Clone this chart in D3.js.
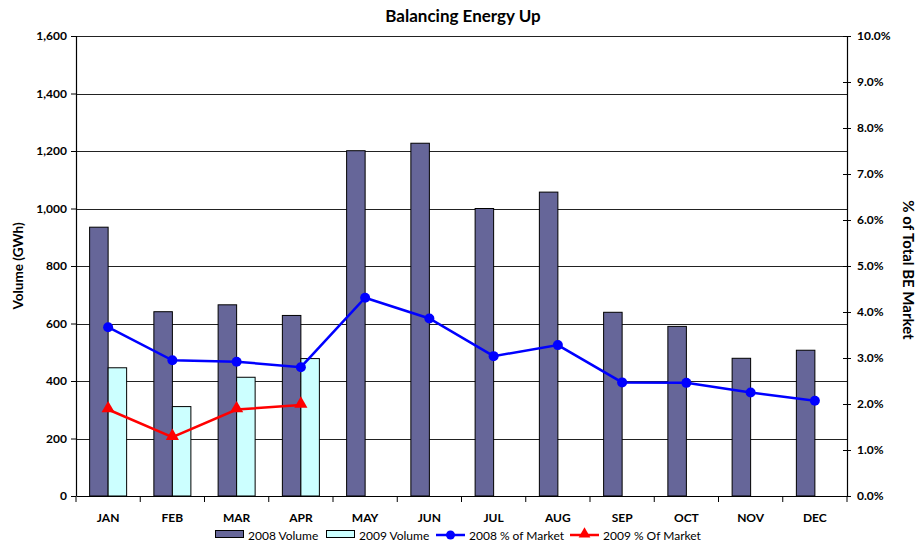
<!DOCTYPE html>
<html>
<head>
<meta charset="utf-8">
<script src="https://cdn.jsdelivr.net/npm/d3@7"></script>
<style>
	body { margin: 0; background: #fff; }
	text { font-family: Lato, "Open Sans", sans-serif; }
</style>
</head>
<body>
<div id="chart"></div>
<script>
///////////////////////////////////////////////////////////////////////////
//////////////////////////// data /////////////////////////////////////////
///////////////////////////////////////////////////////////////////////////

const months = ["JAN", "FEB", "MAR", "APR", "MAY", "JUN", "JUL", "AUG", "SEP", "OCT", "NOV", "DEC"];
const volume2008 = [935, 641, 665, 628, 1201, 1227, 1000, 1057, 639, 590, 479, 507];
const volume2009 = [446, 311, 413, 478];
const share2008 = [3.67, 2.95, 2.92, 2.8, 4.31, 3.86, 3.04, 3.28, 2.47, 2.46, 2.25, 2.07];
const share2009 = [1.88, 1.28, 1.88, 1.98];
const volTicks = [0, 200, 400, 600, 800, 1000, 1200, 1400, 1600];
const pctTicks = [0, 1, 2, 3, 4, 5, 6, 7, 8, 9, 10];

const createChart = () => {
	//////////////////////////// sizes ///////////////////////////////////
	let dimensions = {
		width: 917,
		height: 545,
		margin: { top: 36, right: 70, bottom: 49, left: 76 }
	};
	dimensions.boundedWidth = dimensions.width - dimensions.margin.left - dimensions.margin.right;
	dimensions.boundedHeight = dimensions.height - dimensions.margin.top - dimensions.margin.bottom;

	const svg = d3.select("#chart").append("svg")
		.attr("width", dimensions.width)
		.attr("height", dimensions.height);

	const bounds = svg.append("g")
		.attr("transform", `translate(${dimensions.margin.left},${dimensions.margin.top})`);

	//////////////////////////// scales ///////////////////////////////////////
	const xScale = d3.scaleBand()
		.domain(months)
		.range([0, dimensions.boundedWidth]);

	const barW = xScale.bandwidth() * 0.288;

	const yScale = d3.scaleLinear()
		.domain([0, 1600])
		.range([dimensions.boundedHeight, 0]);

	const pScale = d3.scaleLinear()
		.domain([0, 10])
		.range([dimensions.boundedHeight, 0]);

	const cx = (i) => xScale(months[i]) + xScale.bandwidth() / 2;

	//////////////////////////// grid ///////////////////////////////////////
	bounds.append("g")
		.selectAll("line")
		.data(volTicks.slice(1))
		.join("line")
		.attr("x1", 0)
		.attr("x2", dimensions.boundedWidth)
		.attr("y1", (d) => Math.round(yScale(d)) + 0.5)
		.attr("y2", (d) => Math.round(yScale(d)) + 0.5)
		.attr("stroke", "#222")
		.attr("stroke-width", 1);

	//////////////////////////// bars ///////////////////////////////////////
	bounds.append("g")
		.selectAll("rect")
		.data(volume2008)
		.join("rect")
		.attr("x", (d, i) => cx(i) - barW)
		.attr("y", (d) => yScale(d))
		.attr("width", barW)
		.attr("height", (d) => dimensions.boundedHeight - yScale(d))
		.attr("fill", "#666699")
		.attr("stroke", "#000")
		.attr("stroke-width", 1);

	bounds.append("g")
		.selectAll("rect")
		.data(volume2009)
		.join("rect")
		.attr("x", (d, i) => cx(i))
		.attr("y", (d) => yScale(d))
		.attr("width", barW)
		.attr("height", (d) => dimensions.boundedHeight - yScale(d))
		.attr("fill", "#CCFFFF")
		.attr("stroke", "#000")
		.attr("stroke-width", 1);

	//////////////////////////// axes ///////////////////////////////////////
	const fmt = d3.format(",");
	const yAxis = d3.axisLeft(yScale)
		.tickValues(volTicks)
		.tickFormat(fmt)
		.tickSize(5)
		.tickPadding(4);
	const yAxisG = bounds.append("g").call(yAxis);

	const pAxis = d3.axisRight(pScale)
		.tickValues(pctTicks)
		.tickFormat((d) => d.toFixed(1) + "%")
		.tickSize(4)
		.tickPadding(6);
	const pAxisG = bounds.append("g")
		.attr("transform", `translate(${dimensions.boundedWidth},0)`)
		.call(pAxis);
	pAxisG.selectAll(".tick line").attr("x1", -4);

	const xAxis = d3.axisBottom(xScale)
		.tickSize(0)
		.tickPadding(17);
	const xAxisG = bounds.append("g")
		.attr("transform", `translate(0,${dimensions.boundedHeight})`)
		.call(xAxis);

	// tick marks between categories
	xAxisG.append("g")
		.selectAll("line")
		.data(d3.range(months.length + 1))
		.join("line")
		.attr("x1", (d) => d * xScale.step())
		.attr("x2", (d) => d * xScale.step())
		.attr("y1", 0)
		.attr("y2", 6)
		.attr("stroke", "#000");

	[yAxisG, pAxisG, xAxisG].forEach((g) => {
		g.select(".domain").attr("stroke", "#000").attr("stroke-width", 1.2);
		g.selectAll(".tick line").attr("stroke", "#000");
		g.selectAll("text")
			.attr("fill", "#000")
			.style("font-size", "12px")
			.style("font-weight", "bold");
	});
	yAxisG.select(".domain").attr("d", `M0.5,0V${dimensions.boundedHeight}`);
	pAxisG.select(".domain").attr("d", `M0.5,0V${dimensions.boundedHeight}`);

	//////////////////////////// lines ///////////////////////////////////////
	const line = d3.line()
		.x((d, i) => cx(i))
		.y((d) => pScale(d));

	bounds.append("path")
		.datum(share2008)
		.attr("d", line)
		.attr("fill", "none")
		.attr("stroke", "#0000FF")
		.attr("stroke-width", 2.5);

	bounds.append("g")
		.selectAll("circle")
		.data(share2008)
		.join("circle")
		.attr("cx", (d, i) => cx(i))
		.attr("cy", (d) => pScale(d))
		.attr("r", 5)
		.attr("fill", "#0000FF");

	bounds.append("path")
		.datum(share2009)
		.attr("d", line)
		.attr("fill", "none")
		.attr("stroke", "#FF0000")
		.attr("stroke-width", 2.5);

	const tri = d3.symbol().type(d3.symbolTriangle).size(75);
	bounds.append("g")
		.selectAll("path")
		.data(share2009)
		.join("path")
		.attr("d", tri)
		.attr("transform", (d, i) => `translate(${cx(i)},${pScale(d) - 1})`)
		.attr("fill", "#FF0000");

	//////////////////////////// titles ///////////////////////////////////////
	svg.append("text")
		.attr("x", 463)
		.attr("y", 22)
		.attr("text-anchor", "middle")
		.style("font-size", "17px")
		.style("font-weight", "bold")
		.text("Balancing Energy Up");

	svg.append("text")
		.attr("transform", `translate(23,${dimensions.margin.top + dimensions.boundedHeight / 2}) rotate(-90)`)
		.attr("text-anchor", "middle")
		.style("font-size", "13.5px")
		.style("font-weight", "bold")
		.text("Volume (GWh)");

	svg.append("text")
		.attr("transform", `translate(903,${dimensions.margin.top + dimensions.boundedHeight / 2 + 4}) rotate(90)`)
		.attr("text-anchor", "middle")
		.style("font-size", "15px")
		.style("font-weight", "bold")
		.text("% of Total BE Market");

	//////////////////////////// legend ///////////////////////////////////////
	const legendItems = [
		{ label: "2008 Volume", type: "bar", color: "#666699", x: 215 },
		{ label: "2009 Volume", type: "bar", color: "#CCFFFF", x: 326 },
		{ label: "2008 % of Market", type: "circle", color: "#0000FF", x: 436 },
		{ label: "2009 % Of Market", type: "triangle", color: "#FF0000", x: 570 }
	];
	const ly = 535;
	const legend = svg.append("g")
		.selectAll("g")
		.data(legendItems)
		.join("g")
		.attr("transform", (d) => `translate(${d.x},${ly})`);

	legend.filter((d) => d.type === "bar")
		.append("rect")
		.attr("x", 0.5)
		.attr("y", -4.5)
		.attr("width", 28)
		.attr("height", 7)
		.attr("fill", (d) => d.color)
		.attr("stroke", "#000");

	legend.filter((d) => d.type !== "bar")
		.append("line")
		.attr("x1", 0)
		.attr("x2", 29)
		.attr("y1", 0)
		.attr("y2", 0)
		.attr("stroke", (d) => d.color)
		.attr("stroke-width", 2.5);

	legend.filter((d) => d.type === "circle")
		.append("circle")
		.attr("cx", 14.5)
		.attr("r", 4.5)
		.attr("fill", (d) => d.color);

	legend.filter((d) => d.type === "triangle")
		.append("path")
		.attr("d", d3.symbol().type(d3.symbolTriangle).size(60))
		.attr("transform", "translate(14.5,-1)")
		.attr("fill", (d) => d.color);

	legend.append("text")
		.attr("x", 33)
		.attr("y", 4.5)
		.style("font-size", "12px")
		.text((d) => d.label);
};

createChart();
</script>
</body>
</html>
